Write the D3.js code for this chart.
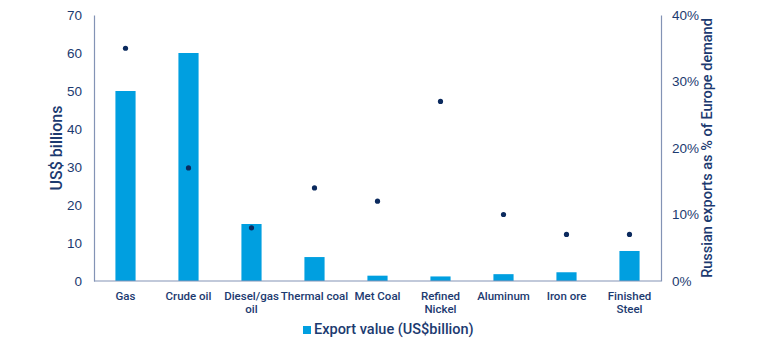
<!DOCTYPE html>
<html>
<head>
<meta charset="utf-8">
<script src="https://cdn.jsdelivr.net/npm/d3@7"></script>
<style>
  html, body { margin: 0; padding: 0; background: #fff; }
  svg { display: block; font-family: Roboto, "Noto Sans", sans-serif; font-weight: 500; }
</style>
</head>
<body>
<svg id="chart" width="768" height="343"></svg>
<script>
// Russian commodity exports: value (US$ bn) and share of European demand
const categories = [
  ["Gas"], ["Crude oil"], ["Diesel/gas", "oil"], ["Thermal coal"], ["Met Coal"],
  ["Refined", "Nickel"], ["Aluminum"], ["Iron ore"], ["Finished", "Steel"]
];
const exportValue = [50, 60, 15, 6.3, 1.4, 1.2, 1.8, 2.3, 7.9];
const shareOfDemand = [0.35, 0.17, 0.08, 0.14, 0.12, 0.27, 0.10, 0.07, 0.07];
const leftTicks = [0, 10, 20, 30, 40, 50, 60, 70];
const rightTicks = [0, 0.1, 0.2, 0.3, 0.4];

const textColor = "#1c3a70";
const axisColor = "#8393b5";
const barColor = "#009fe0";
const dotColor = "#0b2a5e";

const svg = d3.select("#chart");
const m = { left: 94, right: 661, top: 15, bottom: 281 };

const x = d3.scaleBand()
  .domain(d3.range(categories.length))
  .range([m.left, m.right])
  .paddingInner(0.68)
  .paddingOuter(0.34);

const yL = d3.scaleLinear().domain([0, 70]).range([m.bottom, m.top]);
const yR = d3.scaleLinear().domain([0, 0.4]).range([m.bottom, m.top]);

// bars
svg.append("g").selectAll("rect")
  .data(exportValue)
  .join("rect")
  .attr("x", (d, i) => x(i))
  .attr("width", x.bandwidth())
  .attr("y", d => yL(d))
  .attr("height", d => yL(0) - yL(d))
  .attr("fill", barColor);

// share dots
svg.append("g").selectAll("circle")
  .data(shareOfDemand)
  .join("circle")
  .attr("cx", (d, i) => x(i) + x.bandwidth() / 2)
  .attr("cy", d => yR(d))
  .attr("r", 2.6)
  .attr("fill", dotColor);

// left axis
const gL = svg.append("g")
  .attr("transform", `translate(${m.left},0)`)
  .call(d3.axisLeft(yL).tickValues(leftTicks).tickSize(0).tickPadding(12));
gL.select(".domain").attr("stroke", axisColor).attr("stroke-width", 1.2);
gL.selectAll("text").attr("fill", textColor).style("font-size", "13.5px");

// right axis
const gR = svg.append("g")
  .attr("transform", `translate(${m.right},0)`)
  .call(d3.axisRight(yR).tickValues(rightTicks).tickFormat(d3.format(".0%")).tickSize(0).tickPadding(11));
gR.select(".domain").attr("stroke", axisColor).attr("stroke-width", 1.2);
gR.selectAll("text").attr("fill", textColor).style("font-size", "13.5px");

// baseline
svg.append("line")
  .attr("x1", m.left).attr("x2", m.right)
  .attr("y1", m.bottom).attr("y2", m.bottom)
  .attr("stroke", axisColor).attr("stroke-width", 1.2);

// category labels
const cat = svg.append("g").selectAll("text")
  .data(categories)
  .join("text")
  .attr("x", (d, i) => x(i) + x.bandwidth() / 2)
  .attr("y", 300)
  .attr("text-anchor", "middle")
  .attr("fill", textColor)
  .style("font-size", "11.5px");
cat.selectAll("tspan")
  .data(d => d)
  .join("tspan")
  .attr("x", function() { return this.parentNode.getAttribute("x"); })
  .attr("dy", (d, i) => i === 0 ? 0 : 13)
  .text(d => d);

// axis titles
svg.append("text")
  .attr("transform", `translate(62,${(m.top + m.bottom) / 2}) rotate(-90)`)
  .attr("text-anchor", "middle")
  .attr("fill", textColor)
  .style("font-size", "16px")
  .text("US$ billions");

svg.append("text")
  .attr("transform", `translate(712,${(m.top + m.bottom) / 2}) rotate(-90)`)
  .attr("text-anchor", "middle")
  .attr("fill", textColor)
  .style("font-size", "14.5px")
  .text("Russian exports as % of Europe demand");

// legend
const lg = svg.append("g").attr("transform", "translate(303,326)");
lg.append("rect").attr("width", 8).attr("height", 8).attr("fill", barColor);
lg.append("text")
  .attr("x", 11).attr("y", 8)
  .attr("fill", textColor)
  .style("font-size", "14.5px")
  .text("Export value (US$billion)");
</script>
</body>
</html>
